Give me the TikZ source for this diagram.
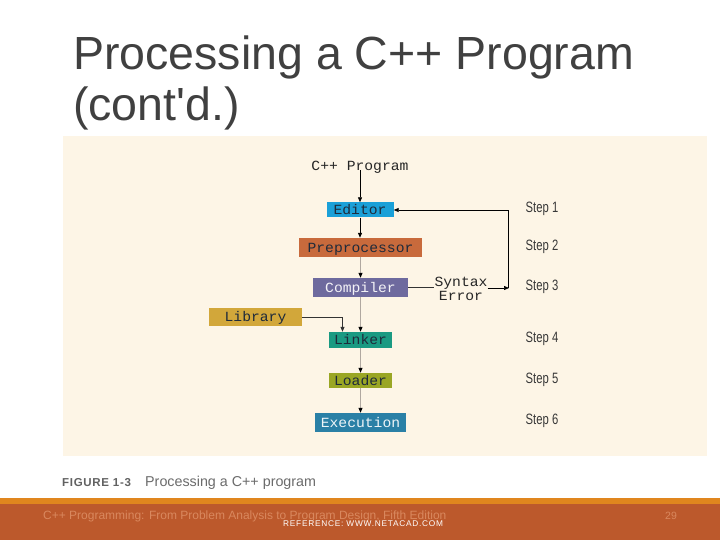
\documentclass[tikz,border=0pt]{standalone}
\usepackage{fontspec}
\setmainfont{Liberation Sans}
\newfontfamily\cour[FakeStretch=1.05]{Liberation Mono}
\newfontfamily\narrowf[FakeStretch=0.75]{Liberation Sans}
\newfontfamily\refont[LetterSpace=9]{Liberation Sans}
\newfontfamily\figfont[LetterSpace=6]{Liberation Sans}
\usetikzlibrary{arrows.meta}
\definecolor{beige}{HTML}{FDF5E6}
\definecolor{titlegray}{HTML}{404040}
\definecolor{cEditor}{HTML}{1AA0D8}
\definecolor{cPre}{HTML}{C86A3C}
\definecolor{cComp}{HTML}{6E6A9E}
\definecolor{cLib}{HTML}{D2A73A}
\definecolor{cLink}{HTML}{1A9A82}
\definecolor{cLoad}{HTML}{9AA624}
\definecolor{cExec}{HTML}{2A80A6}
\definecolor{footbg}{HTML}{BC592C}
\definecolor{footstripe}{HTML}{E0861E}
\definecolor{foottext}{HTML}{D9885E}
\definecolor{linegray}{HTML}{B0A8A0}
\definecolor{darktext}{HTML}{1E2A3A}
\tikzset{
  box/.style={inner sep=0pt, font=\cour\fontsize{14}{15}\selectfont, text=darktext, text height=9pt, text depth=0pt},
  lbl/.style={inner sep=0pt, font=\cour\fontsize{14}{15}\selectfont, text=black!85},
  steplbl/.style={inner sep=0pt, font=\narrowf\fontsize{15}{16}\selectfont, text=black!78},
  blk/.style={-{Triangle[length=5pt,width=4pt]}, line width=0.8pt, black},
  gry/.style={-{Triangle[length=5pt,width=4pt,color=black]}, line width=0.8pt, linegray},
}
\begin{document}
\begin{tikzpicture}[x=1pt,y=-1pt]
\useasboundingbox (0,0) rectangle (720,540);
\fill[white] (0,0) rectangle (720,540);
% title
\node[anchor=base west, inner sep=0pt, text=titlegray, font=\fontsize{46.5}{50}\selectfont] (t1) at (73,70) {Processing a C++ Program};
\node[anchor=base west, inner sep=0pt, text=titlegray, font=\fontsize{46.5}{50}\selectfont] (t2) at (73,121) {(cont\textquotesingle d.)};
% figure background
\fill[beige] (63,136) rectangle (707,456);
% nodes
\node[lbl] (prog) at (360,167) {C++ Program};
\node[box, fill=cEditor, minimum width=67pt, minimum height=15pt] (editor) at (360,210) {Editor};
\node[box, fill=cPre, minimum width=123pt, minimum height=19pt] (pre) at (360.5,247.5) {Preprocessor};
\node[box, fill=cComp, text=white!92!cComp, minimum width=95pt, minimum height=19pt] (comp) at (360.5,287.5) {Compiler};
\node[box, fill=cLib, minimum width=93pt, minimum height=18pt] (lib) at (255.5,317) {Library};
\node[box, fill=cLink, minimum width=63pt, minimum height=16pt] (link) at (360.5,340) {Linker};
\node[box, fill=cLoad, minimum width=63pt, minimum height=15pt] (load) at (360.5,380.5) {Loader};
\node[box, fill=cExec, text=white!92!cExec, minimum width=91pt, minimum height=19pt] (exec) at (360.5,422.5) {Execution};
\node[lbl, align=center, font=\cour\fontsize{14}{13.5}\selectfont] (se) at (461,289) {Syntax\\Error};
\coordinate (ret) at (509,288);
% steps
\node[steplbl] (s1) at (542,209) {Step 1};
\node[steplbl] (s2) at (542,247) {Step 2};
\node[steplbl] (s3) at (542,287) {Step 3};
\node[steplbl] (s4) at (542,339) {Step 4};
\node[steplbl] (s5) at (542,380) {Step 5};
\node[steplbl] (s6) at (542,421) {Step 6};
% connectors
\draw[blk] ([yshift=3pt]prog.south) -- (editor.north);
\draw[blk] (editor.south) -- (editor.south |- pre.north);
\draw[gry] (pre.south) -- (comp.north);
\draw[gry] (comp.south) -- (link.north);
\draw[gry] (link.south) -- (load.north);
\draw[gry] (load.south) -- (exec.north);
\draw[blk, line width=0.7pt, black!80] (lib.east) -| ([xshift=-18pt]link.north);
\draw[line width=0.7pt, black!80] (comp.east) -- (comp.east -| se.west);
\draw[blk, line width=0.7pt] (se.east |- ret) -- (ret);
\draw[blk, line width=0.7pt] ([xshift=-1pt]ret) |- (editor.east);
% caption
\node[anchor=base west, inner sep=0pt, text=black!62, font=\figfont\bfseries\fontsize{11.5}{12}\selectfont] (fig) at (62,486) {FIGURE 1-3};
\node[anchor=base west, inner sep=0pt, text=black!58, font=\fontsize{14.3}{15}\selectfont] (cap) at (145,486) {Processing a C++ program};
% footer
\fill[footstripe] (0,498) rectangle (720,504);
\fill[footbg] (0,504) rectangle (720,540);
\node[anchor=base west, inner sep=0pt, text=foottext, font=\fontsize{12}{13}\selectfont] (ft) at (43,519) {C++ Programming: From Problem Analysis to Program Design, Fifth Edition};
\node[anchor=base west, inner sep=0pt, text=white, font=\refont\fontsize{8.3}{9}\selectfont] (ref) at (283,526) {REFERENCE: WWW.NETACAD.COM};
\node[anchor=base west, inner sep=0pt, text=foottext, font=\fontsize{10.5}{11}\selectfont] (pg) at (665,519) {29};
\end{tikzpicture}
\end{document}
